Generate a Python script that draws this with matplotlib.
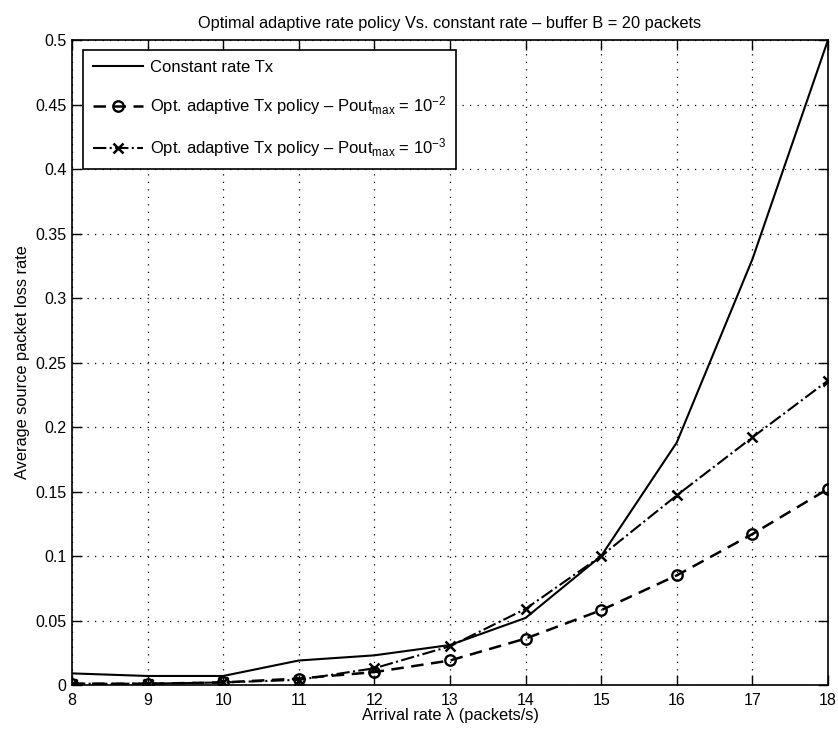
import matplotlib
matplotlib.use("Agg")
import matplotlib.pyplot as plt

plt.rcParams['font.family'] = ['Liberation Sans', 'DejaVu Sans']
plt.rcParams['mathtext.fontset'] = 'custom'
plt.rcParams['mathtext.rm'] = 'Liberation Sans'
plt.rcParams['mathtext.it'] = 'Liberation Sans:italic'

arrival_rate = [8, 9, 10, 11, 12, 13, 14, 15, 16, 17, 18]
constant_rate = [0.009, 0.007, 0.007, 0.019, 0.023, 0.031, 0.052, 0.100, 0.188, 0.330, 0.500]
adaptive_1e2 = [0.001, 0.001, 0.002, 0.005, 0.010, 0.019, 0.036, 0.058, 0.085, 0.117, 0.152]
adaptive_1e3 = [0.001, 0.001, 0.002, 0.004, 0.013, 0.030, 0.059, 0.100, 0.147, 0.192, 0.236]

y_ticks = [0, 0.05, 0.1, 0.15, 0.2, 0.25, 0.3, 0.35, 0.4, 0.45, 0.5]
y_tick_labels = ['0', '0.05', '0.1', '0.15', '0.2', '0.25', '0.3', '0.35', '0.4', '0.45', '0.5']

fig = plt.figure(figsize=(8.38, 7.32), dpi=100)
ax = fig.add_axes([0.0859, 0.0642, 0.9021, 0.881])

ax.plot(arrival_rate, constant_rate, '-', color='black', lw=1.5,
        label='Constant rate Tx')
ax.plot(arrival_rate, adaptive_1e2, '--', color='black', lw=1.8,
        marker='o', markersize=7.5, markerfacecolor='none', markeredgewidth=1.7,
        dashes=(5, 3),
        label=r'Opt. adaptive Tx policy – Pout$_{\mathrm{max}}$ = 10$^{-2}$')
ax.plot(arrival_rate, adaptive_1e3, '-.', color='black', lw=1.5,
        marker='x', markersize=6.5, markeredgewidth=1.8,
        label=r'Opt. adaptive Tx policy – Pout$_{\mathrm{max}}$ = 10$^{-3}$')

ax.set_xlim(8, 18)
ax.set_ylim(0, 0.5)
ax.set_xticks(arrival_rate)
ax.set_yticks(y_ticks)
ax.set_yticklabels(y_tick_labels)
ax.tick_params(direction='in', top=True, right=True, labelsize=11.5, length=7,
               width=1.0, pad=4)
ax.tick_params(axis='x', pad=6)
ax.grid(True, linestyle=(0, (1, 5)), color='black', linewidth=0.9)
for s in ax.spines.values():
    s.set_linewidth(1.2)

ax.set_title('Optimal adaptive rate policy Vs. constant rate – buffer B = 20 packets',
             fontsize=11.8, pad=9)
ax.set_xlabel('Arrival rate λ (packets/s)', fontsize=11.8, labelpad=0)
ax.set_ylabel('Average source packet loss rate', fontsize=11.8, labelpad=4)

leg = ax.legend(loc='upper left', bbox_to_anchor=(0.0146, 0.9845),
                borderaxespad=0, fontsize=12, fancybox=False, framealpha=1,
                edgecolor='black', labelspacing=1.15, handlelength=3.0,
                handletextpad=0.4, borderpad=0.6)
leg.get_frame().set_linewidth(1.2)

fig.savefig('out.png', dpi=100)
